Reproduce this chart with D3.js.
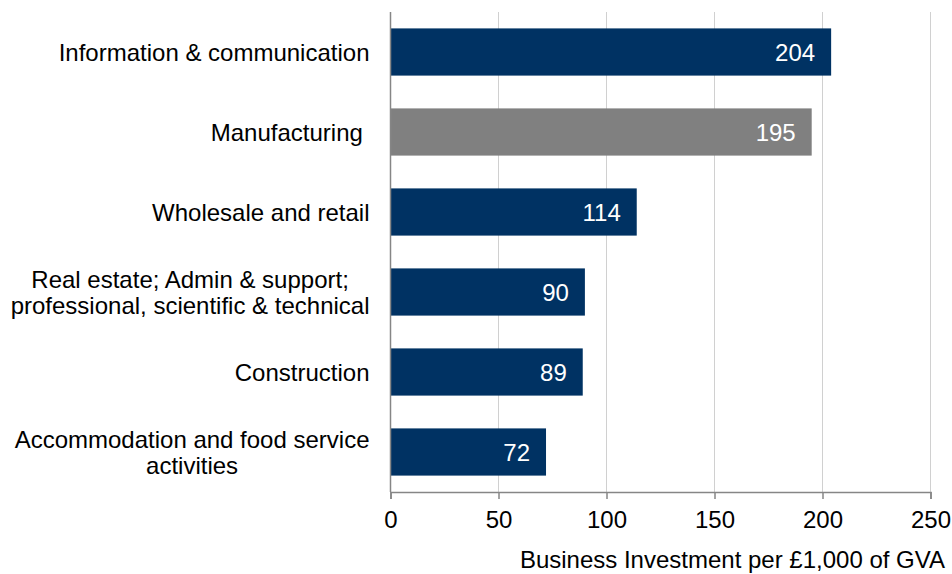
<!DOCTYPE html>
<html>
<head>
<meta charset="utf-8">
<script src="https://cdn.jsdelivr.net/npm/d3@7"></script>
<style>
  body { margin: 0; background: #fff; }
  text { font-family: "Liberation Sans", Arial, sans-serif; }
</style>
</head>
<body>
<div id="chart"></div>
<script>
// sector labels (top to bottom), lines split for wrapping
const sectors = [
    ["Information & communication"],
    ["Manufacturing "],
    ["Wholesale and retail"],
    ["Real estate; Admin & support;", "professional, scientific & technical"],
    ["Construction"],
    ["Accommodation and food service", "activities"]
];
const values = [204, 195, 114, 90, 89, 72];
const highlight = [false, true, false, false, false, false];
const xTicks = [0, 50, 100, 150, 200, 250];
const axisTitle = "Business Investment per £1,000 of GVA";

const width = 952, height = 574;
const margin = { top: 12, right: 21.5, bottom: 82, left: 390.5 };
const innerW = width - margin.left - margin.right;
const innerH = height - margin.top - margin.bottom;
const fontSize = "24px";

const svg = d3.select("#chart").append("svg")
    .attr("width", width)
    .attr("height", height);

const g = svg.append("g")
    .attr("transform", `translate(${margin.left},${margin.top})`);

const xScale = d3.scaleLinear().domain([0, 250]).range([0, innerW]);
const yScale = d3.scaleBand()
    .domain(d3.range(values.length))
    .range([0, innerH])
    .paddingInner(0.41)
    .paddingOuter(0.205);

// gridlines
g.selectAll(".grid")
    .data(xTicks.slice(1))
    .join("line")
    .attr("x1", d => xScale(d))
    .attr("x2", d => xScale(d))
    .attr("y1", 0)
    .attr("y2", innerH)
    .attr("stroke", "#d0d0d0")
    .attr("stroke-width", 1);

// bars
g.selectAll(".bar")
    .data(values)
    .join("rect")
    .attr("x", 0)
    .attr("y", (d, i) => yScale(i))
    .attr("width", d => xScale(d))
    .attr("height", yScale.bandwidth())
    .attr("fill", (d, i) => highlight[i] ? "#808080" : "#003263");

// value labels inside bar end
g.selectAll(".val")
    .data(values)
    .join("text")
    .attr("x", d => xScale(d) - 16)
    .attr("y", (d, i) => yScale(i) + yScale.bandwidth() / 2)
    .attr("dy", "0.36em")
    .attr("text-anchor", "end")
    .attr("fill", "#fff")
    .style("font-size", fontSize)
    .text(d => d);

// left axis line
g.append("line")
    .attr("x1", 0).attr("x2", 0)
    .attr("y1", 0).attr("y2", innerH)
    .attr("stroke", "#868686")
    .attr("stroke-width", 1.5);

// bottom axis
const xAxis = g.append("g")
    .attr("transform", `translate(0,${innerH})`)
    .call(d3.axisBottom(xScale).tickValues(xTicks).tickSize(7).tickPadding(12));
xAxis.select(".domain").attr("stroke", "#868686").attr("stroke-width", 1.5);
xAxis.selectAll(".tick line").attr("stroke", "#868686").attr("stroke-width", 1.5);
xAxis.selectAll(".tick text")
    .attr("fill", "#000")
    .style("font-size", fontSize)
    .style("font-family", "'Liberation Sans', Arial, sans-serif");

// category labels
const lineH = 26;
sectors.forEach((lines, i) => {
    const cy = yScale(i) + yScale.bandwidth() / 2;
    const t = g.append("text")
        .attr("text-anchor", "middle")
        .style("font-size", fontSize)
        .style("white-space", "pre")
        .attr("fill", "#000");
    const start = -(lines.length - 1) * lineH / 2;
    lines.forEach((ln, j) => {
        t.append("tspan")
            .attr("x", 0)
            .attr("y", cy + start + j * lineH)
            .attr("dy", "0.36em")
            .text(ln);
    });
    // right-align the block, centre lines within it
    const w = t.node().getBBox().width;
    t.attr("transform", `translate(${-21 - w / 2},0)`);
});

// axis title
svg.append("text")
    .attr("x", 945)
    .attr("y", 568)
    .attr("text-anchor", "end")
    .style("font-size", fontSize)
    .attr("fill", "#000")
    .text(axisTitle);
</script>
</body>
</html>
